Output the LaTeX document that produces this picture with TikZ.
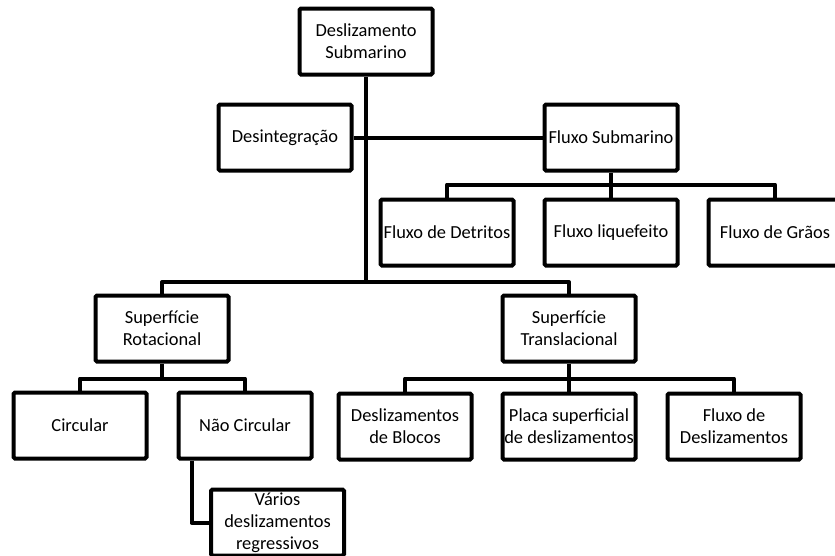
\documentclass[tikz,border=0pt]{standalone}
\usepackage{fontspec}
\setmainfont{Carlito}
\usetikzlibrary{positioning}

\tikzset{
  caixa/.style={draw, line width=4pt, rounded corners=1.5pt, minimum width=133pt,
    minimum height=66pt, inner sep=1pt, align=center,
    font=\fontsize{18.4}{22}\selectfont},
  liga/.style={line width=4pt, line join=round}
}

\begin{document}
\begin{tikzpicture}[x=1pt, y=-1pt]
  \useasboundingbox (0,0) rectangle (835,555);
  \node [caixa] (root) at (366,41.5) {Deslizamento\\Submarino};
  \node [caixa] (desi) at (285,137.5) {Desintegração};
  \node [caixa] (fsub) at (611,137.5) {Fluxo Submarino};
  \node [caixa, below=25pt of fsub] (fliq) {Fluxo liquefeito};
  \node [caixa, left=27pt of fliq] (fdet) {Fluxo de Detritos};
  \node [caixa, right=27pt of fliq] (fgra) {Fluxo de Grãos};
  \coordinate (j) at (366,282);
  \node [caixa] (srot) at (162,328.5) {Superfície\\Rotacional};
  \node [caixa] (stra) at (569,328.5) {Superfície\\Translacional};
  \node [caixa, below=27pt of srot, xshift=-82pt] (circ) {Circular};
  \node [caixa, right=28pt of circ] (nc) {Não Circular};
  \node [caixa, below=27pt of nc, xshift=32.5pt] (var) {Vários\\deslizamentos\\regressivos};
  \node [caixa, below=28pt of stra] (tpla) {Placa superficial\\de deslizamentos};
  \node [caixa, left=27pt of tpla] (tblo) {Deslizamentos\\de Blocos};
  \node [caixa, right=28pt of tpla] (tflu) {Fluxo de\\Deslizamentos};

  % ligacoes
  \draw [liga] (root.south) -- (j);
  \draw [liga] (desi) -- (fsub);
  \draw [liga] (srot.north) |- (j) -| (stra.north);
  \draw [liga] (fsub) -- (fliq);
  \draw [liga] (fdet.north) |- ([yshift=-12pt]fsub.south) -| (fgra.north);
  \draw [liga] (srot.south) -- ([yshift=-15pt]srot.south);
  \draw [liga] (circ.north) |- ([yshift=-15pt]srot.south) -| (nc.north);
  \draw [liga] (stra) -- (tpla);
  \draw [liga] (tblo.north) |- ([yshift=-15pt]stra.south) -| (tflu.north);
  \draw [liga] ([xshift=15pt]nc.south west) |- (var.west);
\end{tikzpicture}
\end{document}
